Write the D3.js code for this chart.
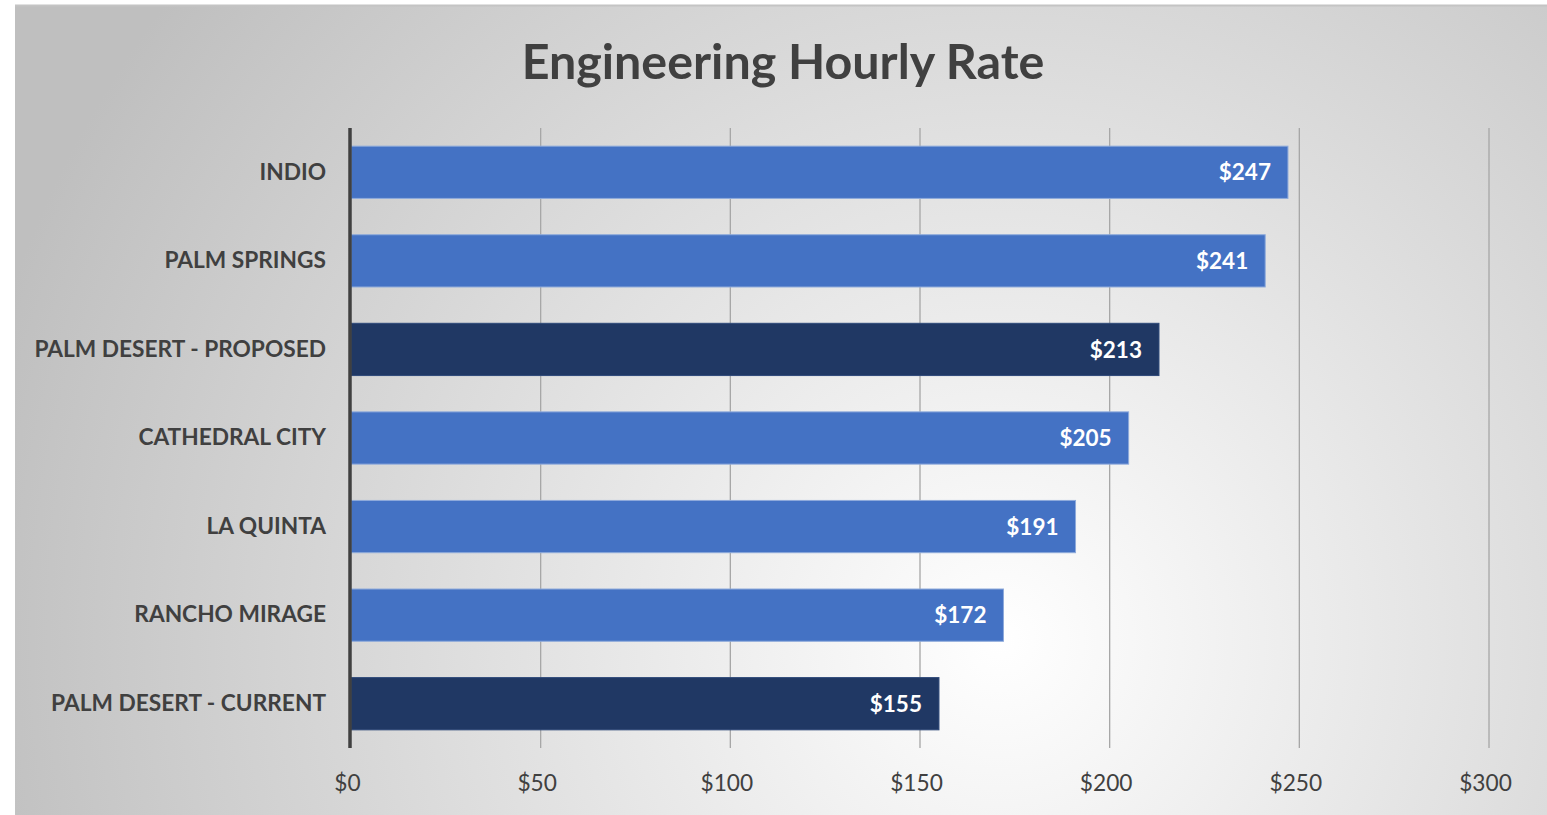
<!DOCTYPE html>
<html><head><meta charset="utf-8">
<script src="https://cdn.jsdelivr.net/npm/d3@7"></script>
<style>
html,body{margin:0;padding:0;background:#fff;}
svg{display:block;}
text{font-family:Lato,"Open Sans",sans-serif;}
</style></head>
<body>
<script>
const categories = ["INDIO","PALM SPRINGS","PALM DESERT - PROPOSED","CATHEDRAL CITY","LA QUINTA","RANCHO MIRAGE","PALM DESERT - CURRENT"];
const values = [247,241,213,205,191,172,155];
const highlighted = ["PALM DESERT - PROPOSED","PALM DESERT - CURRENT"];
const tickValues = [0,50,100,150,200,250,300];
const title = "Engineering Hourly Rate";

const W = 1547, H = 815;
const svg = d3.select("body").append("svg").attr("width", W).attr("height", H);
const defs = svg.append("defs");
const grad = defs.append("radialGradient").attr("id","bg")
  .attr("gradientUnits","userSpaceOnUse")
  .attr("cx",1000).attr("cy",640).attr("r",1050);
grad.append("stop").attr("offset","0%").attr("stop-color","#ffffff");
grad.append("stop").attr("offset","100%").attr("stop-color","#bfbfbf");

svg.append("rect").attr("x",15).attr("y",5).attr("width",W-15).attr("height",H-5)
  .attr("fill","url(#bg)");
svg.append("line").attr("x1",15).attr("x2",W).attr("y1",5.5).attr("y2",5.5)
  .attr("stroke","#c4c4c4").attr("stroke-width",2);

const margin = {left:351, right:58, top:128, bottom:67};
const x = d3.scaleLinear().domain([0,300]).range([margin.left, W - margin.right]);
const y = d3.scaleBand().domain(categories).range([margin.top, H - margin.bottom]).paddingInner(0.41).paddingOuter(0.205);

// gridlines
svg.append("g").selectAll("line").data(tickValues.filter(d=>d>0)).join("line")
  .attr("x1",d=>x(d)).attr("x2",d=>x(d))
  .attr("y1",margin.top).attr("y2",H - margin.bottom)
  .attr("stroke","#a6a6a6").attr("stroke-width",1.3);

// bars
svg.append("g").selectAll("rect").data(categories).join("rect")
  .attr("x", x(0))
  .attr("y", d=>y(d))
  .attr("width", (d,i)=>x(values[i]) - x(0))
  .attr("height", y.bandwidth())
  .attr("fill", d=>highlighted.includes(d) ? "#203864" : "#4472c4")
  .attr("stroke", d=>highlighted.includes(d) ? "#2f4a7a" : "#8eaadb")
  .attr("stroke-width",1);

// value labels
svg.append("g").selectAll("text").data(categories).join("text")
  .attr("x",(d,i)=>x(values[i]) - 17)
  .attr("y", d=>y(d) + y.bandwidth()/2)
  .attr("dy","0.36em")
  .attr("text-anchor","end")
  .attr("fill","#ffffff").attr("font-weight","bold").attr("font-size",22.5)
  .text((d,i)=>"$" + values[i]);

// axis line (vertical)
svg.append("line").attr("x1",x(0)-1).attr("x2",x(0)-1)
  .attr("y1",margin.top).attr("y2",H - margin.bottom)
  .attr("stroke","#404040").attr("stroke-width",3.5);

// category labels
const yAxis = d3.axisLeft(y).tickSize(0).tickPadding(25);
const gy = svg.append("g").attr("transform",`translate(${x(0)},0)`).call(yAxis);
gy.select(".domain").remove();
gy.selectAll("text").attr("font-family","Lato, sans-serif").attr("font-size",22.7)
  .attr("font-weight","bold").attr("fill","#404040");

// x tick labels
const xAxis = d3.axisBottom(x).tickValues(tickValues).tickSize(0).tickPadding(0).tickFormat(d=>"$"+d);
const gx = svg.append("g").attr("transform",`translate(-4,${H - margin.bottom + 27})`).call(xAxis);
gx.select(".domain").remove();
gx.selectAll("text").attr("font-family","Lato, sans-serif").attr("font-size",22.7)
  .attr("fill","#404040").attr("dy","0.71em");

// title
svg.append("text").attr("x",783).attr("y",79).attr("text-anchor","middle")
  .attr("font-size",48.4).attr("font-weight","bold").attr("fill","#404040").text(title);
</script>
</body></html>
